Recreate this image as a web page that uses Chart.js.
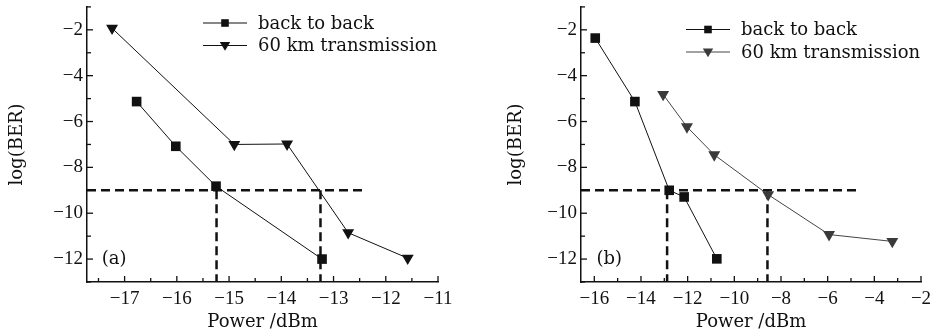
<!DOCTYPE html>
<html>
<head>
<meta charset="utf-8">
<script src="https://cdn.jsdelivr.net/npm/chart.js@4.4.0/dist/chart.umd.min.js"></script>
<style>
  html, body { margin: 0; padding: 0; background: #fff; }
  #wrap { position: relative; width: 934px; height: 333px; }
  .panel { position: absolute; top: 0; height: 333px; }
  #panelA { left: 0; width: 464px; }
  #panelB { left: 464px; width: 470px; }
</style>
</head>
<body>
<div id="wrap">
  <div class="panel" id="panelA"><canvas id="chartA"></canvas></div>
  <div class="panel" id="panelB"><canvas id="chartB"></canvas></div>
</div>
<script>
// panel (a)
const powerA_b2b = [-16.77, -16.02, -15.25, -13.22];
const berA_b2b = [-5.13, -7.08, -8.82, -12.0];
const powerA_60 = [-17.24, -14.9, -13.89, -12.72, -11.58];
const berA_60 = [-1.93, -7.0, -6.98, -10.85, -11.96];
const xTicksA = [-17, -16, -15, -14, -13, -12, -11];
const crossA = [-15.24, -13.25];
const thresholdEndA = -12.42;

// panel (b)
const powerB_b2b = [-15.96, -14.26, -12.79, -12.15, -10.75];
const berB_b2b = [-2.36, -5.13, -9.0, -9.29, -11.99];
const powerB_60 = [-13.05, -12.03, -10.86, -8.55, -5.94, -3.23];
const berB_60 = [-4.82, -6.23, -7.45, -9.19, -10.93, -11.23];
const xTicksB = [-16, -14, -12, -10, -8, -6, -4, -2];
const crossB = [-12.88, -8.58];
const thresholdEndB = -4.66;

const yTicks = [-12, -10, -8, -6, -4, -2];
const threshold = -9;
const seriesNames = ['back to back', '60 km transmission'];

const INK = '#111';
const fmt = v => (v < 0 ? '\u2212' + Math.abs(v) : String(v));
const zip = (xs, ys) => xs.map((x, i) => ({ x, y: ys[i] }));

// minor tick positions halfway between the labelled ones
function withMinors(majors, lo, hi) {
  const step = majors[1] - majors[0];
  const out = [];
  for (let v = majors[0] - step / 2; v <= hi + 1e-9; v += step / 2) {
    if (v >= lo - 1e-9) out.push(Math.round(v * 100) / 100);
  }
  return out;
}

function dashed(points) {
  return {
    data: points, showLine: true, borderColor: INK, borderWidth: 2.5,
    borderDash: [9, 5], pointRadius: 0, fill: false
  };
}

// inward ticks, panel letter and the legend with line-marker-line samples
const decor = {
  id: 'decor',
  afterDraw(chart, args, o) {
    const { ctx, chartArea: a, scales: { x, y } } = chart;
    ctx.save();
    ctx.strokeStyle = INK;
    ctx.lineWidth = 1.3;
    const seg = (x1, y1, x2, y2) => { ctx.beginPath(); ctx.moveTo(x1, y1); ctx.lineTo(x2, y2); ctx.stroke(); };
    withMinors(o.xMajor, x.min, x.max).forEach(v => {
      const p = x.getPixelForValue(v);
      seg(p, a.bottom, p, a.bottom - (o.xMajor.includes(v) ? 6 : 4));
    });
    withMinors(yTicks, y.min, y.max).forEach(v => {
      const p = y.getPixelForValue(v);
      seg(a.left, p, a.left + (yTicks.includes(v) ? 6 : 4), p);
    });

    ctx.fillStyle = INK;
    ctx.font = '18px "DejaVu Serif"';
    ctx.textAlign = 'center';
    ctx.textBaseline = 'middle';
    ctx.fillText(o.letter, x.getPixelForValue(o.letterAt[0]), y.getPixelForValue(o.letterAt[1]));

    ctx.textAlign = 'left';
    for (let i = 0; i < 2; i++) {
      const ds = chart.data.datasets[i];
      const ly = o.legendTop + i * o.legendGap;
      const lx = o.legendLeft;
      ctx.strokeStyle = ds.borderColor;
      ctx.lineWidth = 1.2;
      seg(lx, ly, lx + 44, ly);
      ctx.fillStyle = ds.pointBackgroundColor;
      ctx.beginPath();
      if (ds.pointStyle === 'rect') {
        ctx.rect(lx + 22 - 3.8, ly - 3.8, 7.6, 7.6);
      } else {
        ctx.moveTo(lx + 22 - 5.2, ly - 3.6);
        ctx.lineTo(lx + 22 + 5.2, ly - 3.6);
        ctx.lineTo(lx + 22, ly + 5.2);
        ctx.closePath();
      }
      ctx.fill();
      ctx.fillStyle = INK;
      ctx.fillText(ds.label, lx + 55, ly + 1);
    }
    ctx.restore();
  }
};

function makePanel(canvasId, p) {
  const series = [
    {
      label: seriesNames[0], data: p.b2b, showLine: true,
      borderColor: INK, borderWidth: 1, pointStyle: 'rect', pointRadius: 6.8,
      pointBackgroundColor: INK, pointBorderWidth: 0
    },
    {
      label: seriesNames[1], data: p.km60, showLine: true,
      borderColor: p.triLine, borderWidth: 1, pointStyle: 'triangle', pointRotation: 180,
      pointRadius: 6.9, pointBackgroundColor: p.triFill, pointBorderWidth: 0
    },
    dashed([{ x: p.xMin, y: threshold }, { x: p.thresholdEnd, y: threshold }]),
    ...p.cross.map(c => dashed([{ x: c, y: threshold }, { x: c, y: -13 }]))
  ];

  return new Chart(document.getElementById(canvasId), {
    type: 'scatter',
    data: { datasets: series },
    options: {
      responsive: true,
      maintainAspectRatio: false,
      animation: false,
      layout: { padding: { top: 4, right: p.padRight, left: 0, bottom: 0 } },
      plugins: {
        legend: { display: false },
        tooltip: { enabled: false },
        decor: {
          xMajor: p.xTicks, letter: p.letter, letterAt: p.letterAt,
          legendLeft: p.legendLeft, legendTop: p.legendTop, legendGap: 22.5
        }
      },
      scales: {
        x: {
          type: 'linear', min: p.xMin, max: p.xMax,
          afterBuildTicks: s => { s.ticks = p.xTicks.map(v => ({ value: v })); },
          afterFit: s => { s.height = 51; s.paddingLeft = 0; s.paddingRight = 0; },
          grid: { display: false, drawTicks: false },
          border: { display: true, color: INK, width: 1.5 },
          ticks: {
            color: INK, padding: 6, maxRotation: 0, autoSkip: false,
            font: { family: 'Liberation Serif', size: 19 },
            callback: v => fmt(v)
          },
          title: {
            display: true, text: 'Power /dBm', color: INK,
            font: { family: 'DejaVu Serif', size: 18 }, padding: { top: 0, bottom: 0 }
          }
        },
        y: {
          type: 'linear', min: -13, max: -1,
          afterBuildTicks: s => { s.ticks = yTicks.map(v => ({ value: v })); },
          afterFit: s => { s.width = p.yWidth; s.paddingTop = 0; s.paddingBottom = 0; },
          grid: { display: false, drawTicks: false },
          border: { display: true, color: INK, width: 1.5 },
          ticks: {
            color: INK, padding: 4,
            font: { family: 'Liberation Serif', size: 19 },
            callback: v => fmt(v)
          },
          title: {
            display: true, text: 'log(BER)', color: INK,
            font: { family: 'DejaVu Serif', size: 18 }, padding: { top: p.yTitlePad, bottom: 0 }
          }
        }
      }
    },
    plugins: [decor]
  });
}

makePanel('chartA', {
  b2b: zip(powerA_b2b, berA_b2b), km60: zip(powerA_60, berA_60),
  xMin: -17.72, xMax: -11, xTicks: xTicksA,
  cross: crossA, thresholdEnd: thresholdEndA,
  triFill: INK, triLine: INK,
  yWidth: 87, yTitlePad: 7, padRight: 26,
  letter: '(a)', letterAt: [-17.2, -12],
  legendLeft: 203, legendTop: 23
});

makePanel('chartB', {
  b2b: zip(powerB_b2b, berB_b2b), km60: zip(powerB_60, berB_60),
  xMin: -16.57, xMax: -2, xTicks: xTicksB,
  cross: crossB, thresholdEnd: thresholdEndB,
  triFill: '#3a3a3a', triLine: '#444',
  yWidth: 117, yTitlePad: 42, padRight: 13,
  letter: '(b)', letterAt: [-15.36, -12],
  legendLeft: 222, legendTop: 29.5
});
</script>
</body>
</html>
